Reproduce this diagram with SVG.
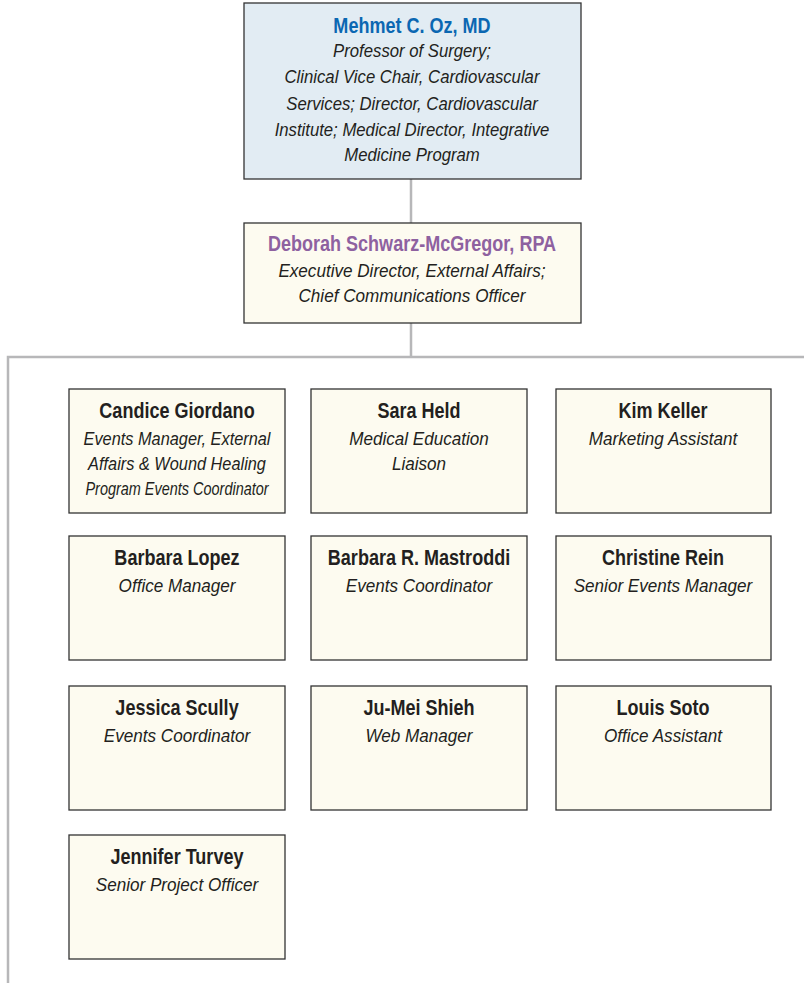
<svg xmlns="http://www.w3.org/2000/svg" width="804" height="985" viewBox="0 0 804 985">
<style>
.box{fill:#fdfbf0;stroke:#333;stroke-width:1.3}
.top{fill:#e2ecf3;stroke:#333;stroke-width:1.3}
text{font-family:"Liberation Sans",Arial,sans-serif;text-anchor:middle;fill:#231f20}
.n{font-weight:bold;font-size:22px}
.t{font-style:italic;font-size:19px}
.conn{stroke:#b7b7b9;stroke-width:2.5;fill:none}
</style>
<rect width="804" height="985" fill="#fff"/>
<g id="connectors">
<path class="conn" d="M411,179V223M411,323V357M804,357H8V983"/>
</g>
<g id="oz">
<rect class="top" x="244" y="3" width="337" height="176"/>
<text class="n" transform="translate(412,0) scale(0.82,1)" x="0" y="33" style="fill:#0b67b2">Mehmet C. Oz, MD</text>
<text class="t" transform="translate(412,0) scale(0.88,1)" x="0" y="57">Professor of Surgery;</text>
<text class="t" transform="translate(412,0) scale(0.88,1)" x="0" y="83">Clinical Vice Chair, Cardiovascular</text>
<text class="t" transform="translate(412,0) scale(0.88,1)" x="0" y="110">Services; Director, Cardiovascular</text>
<text class="t" transform="translate(412,0) scale(0.88,1)" x="0" y="136">Institute; Medical Director, Integrative</text>
<text class="t" transform="translate(412,0) scale(0.88,1)" x="0" y="161">Medicine Program</text>
</g>
<g id="schwarz">
<rect class="box" x="244" y="223" width="337" height="100"/>
<text class="n" transform="translate(412,0) scale(0.82,1)" x="0" y="251" style="fill:#8e61a0">Deborah Schwarz-McGregor, RPA</text>
<text class="t" transform="translate(412,0) scale(0.9,1)" x="0" y="277">Executive Director, External Affairs;</text>
<text class="t" transform="translate(412,0) scale(0.9,1)" x="0" y="302">Chief Communications Officer</text>
</g>
<g id="giordano">
<rect class="box" x="69" y="389" width="216" height="124"/>
<text class="n" transform="translate(177,0) scale(0.82,1)" x="0" y="418">Candice Giordano</text>
<text class="t" transform="translate(177,0) scale(0.86,1)" x="0" y="445">Events Manager, External</text>
<text class="t" transform="translate(177,0) scale(0.86,1)" x="0" y="470">Affairs &amp; Wound Healing</text>
<text class="t" transform="translate(177,0) scale(0.86,1)" x="0" y="495" textLength="213" lengthAdjust="spacingAndGlyphs">Program Events Coordinator</text>
</g>
<g id="held">
<rect class="box" x="311" y="389" width="216" height="124"/>
<text class="n" transform="translate(419,0) scale(0.82,1)" x="0" y="418">Sara Held</text>
<text class="t" transform="translate(419,0) scale(0.9,1)" x="0" y="445">Medical Education</text>
<text class="t" transform="translate(419,0) scale(0.9,1)" x="0" y="470">Liaison</text>
</g>
<g id="keller">
<rect class="box" x="556" y="389" width="215" height="124"/>
<text class="n" transform="translate(663,0) scale(0.82,1)" x="0" y="418">Kim Keller</text>
<text class="t" transform="translate(663,0) scale(0.9,1)" x="0" y="445">Marketing Assistant</text>
</g>
<g id="lopez">
<rect class="box" x="69" y="536" width="216" height="124"/>
<text class="n" transform="translate(177,0) scale(0.82,1)" x="0" y="565">Barbara Lopez</text>
<text class="t" transform="translate(177,0) scale(0.9,1)" x="0" y="592">Office Manager</text>
</g>
<g id="mastroddi">
<rect class="box" x="311" y="536" width="216" height="124"/>
<text class="n" transform="translate(419,0) scale(0.82,1)" x="0" y="565">Barbara R. Mastroddi</text>
<text class="t" transform="translate(419,0) scale(0.9,1)" x="0" y="592">Events Coordinator</text>
</g>
<g id="rein">
<rect class="box" x="556" y="536" width="215" height="124"/>
<text class="n" transform="translate(663,0) scale(0.82,1)" x="0" y="565">Christine Rein</text>
<text class="t" transform="translate(663,0) scale(0.9,1)" x="0" y="592">Senior Events Manager</text>
</g>
<g id="scully">
<rect class="box" x="69" y="686" width="216" height="124"/>
<text class="n" transform="translate(177,0) scale(0.82,1)" x="0" y="715">Jessica Scully</text>
<text class="t" transform="translate(177,0) scale(0.9,1)" x="0" y="742">Events Coordinator</text>
</g>
<g id="shieh">
<rect class="box" x="311" y="686" width="216" height="124"/>
<text class="n" transform="translate(419,0) scale(0.82,1)" x="0" y="715">Ju-Mei Shieh</text>
<text class="t" transform="translate(419,0) scale(0.9,1)" x="0" y="742">Web Manager</text>
</g>
<g id="soto">
<rect class="box" x="556" y="686" width="215" height="124"/>
<text class="n" transform="translate(663,0) scale(0.82,1)" x="0" y="715">Louis Soto</text>
<text class="t" transform="translate(663,0) scale(0.9,1)" x="0" y="742">Office Assistant</text>
</g>
<g id="turvey">
<rect class="box" x="69" y="835" width="216" height="124"/>
<text class="n" transform="translate(177,0) scale(0.82,1)" x="0" y="864">Jennifer Turvey</text>
<text class="t" transform="translate(177,0) scale(0.9,1)" x="0" y="891">Senior Project Officer</text>
</g>
</svg>
